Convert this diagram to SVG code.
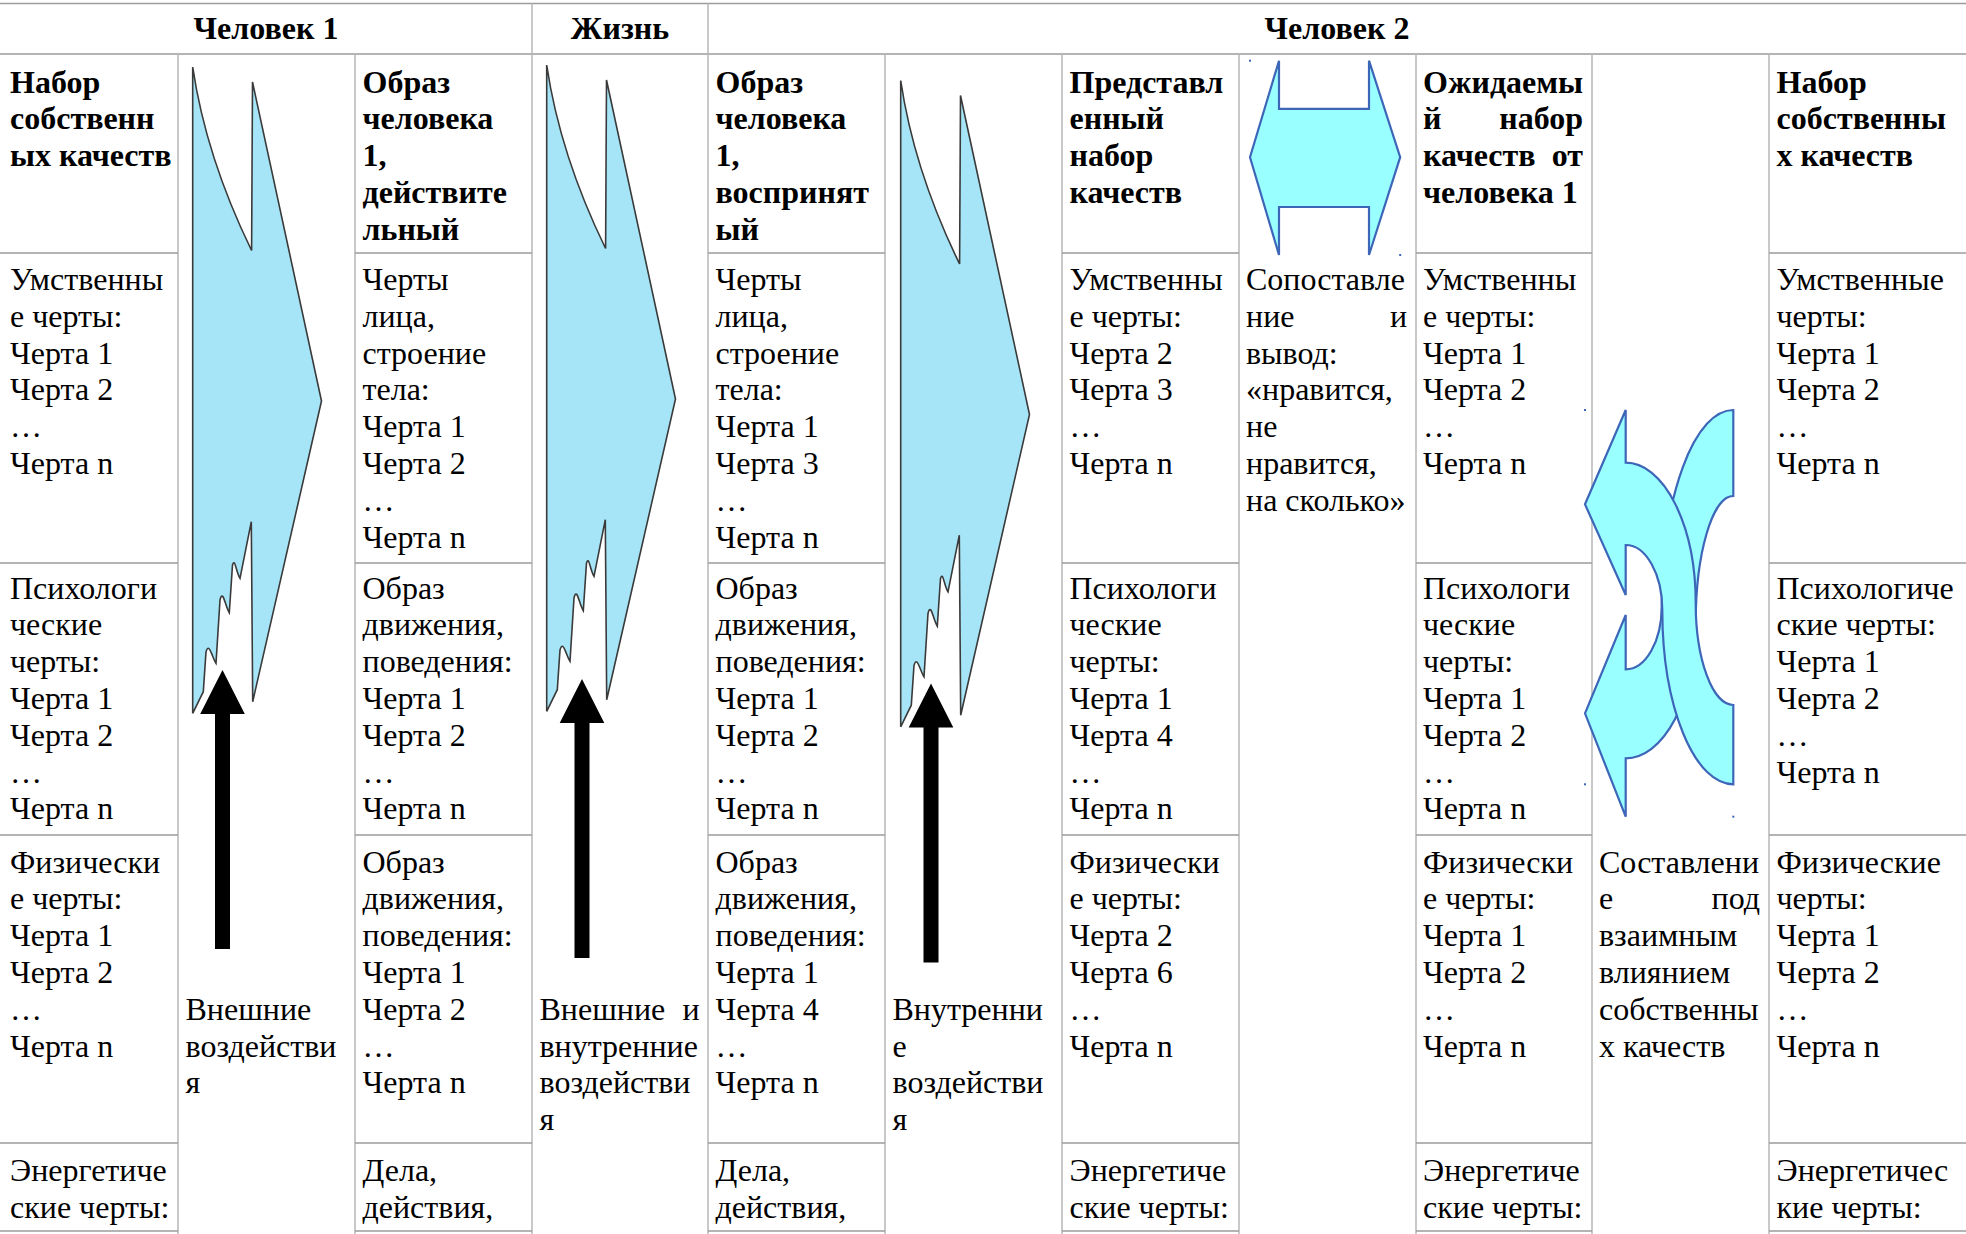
<svg xmlns="http://www.w3.org/2000/svg" width="1966" height="1234" viewBox="0 0 1966 1234">
  <style>
    text { font-family: "Liberation Serif", "Times New Roman", serif; font-size: 32px; fill: #000; }
    .b { font-weight: bold; }
    .hdr { font-weight: bold; text-anchor: middle; }
    .end { text-anchor: end; }
    .gh { stroke: #9c9c9c; stroke-width: 1.5; fill: none; }
    .gv { stroke: #b8b8b8; stroke-width: 1.5; fill: none; }
    .flow { fill: #a5e5f7; stroke: #3a3a3a; stroke-width: 1.6; stroke-linejoin: miter; }
    .cmp { fill: #99ffff; stroke: #3d66b8; stroke-width: 2.2; stroke-linejoin: miter; }
    .push { fill: #000; }
    .dot { fill: #3d66b8; }
  </style>
  <defs>
    <!-- torn block arrow pointing right -->
    <path id="flowArrow" d="M 192.7,67 Q 206,157 251.6,250.5 L 252.5,82 L 321.5,401 L 252.7,701.7 L 251.3,521.7 L 240,578.3 C 236,572 235,557 232.5,565 L 229.3,612.7 C 225,606 223,588 220,600 L 216,663.3 C 212,657 209,641 206,652 L 203.3,691.7 L 192.7,713.3 Z"/>
    <!-- thick upward arrow, tip at origin -->
    <path id="pushArrow" d="M 0,0 L 22.3,44 L 7.5,44 L 7.5,279 L -7.5,279 L -7.5,44 L -22.3,44 Z"/>
  </defs>
  <rect width="1966" height="1234" fill="#fff"/>

  <!-- table grid -->
  <g id="grid">
    <path class="gh" d="M0,3.5 H1966 M0,54 H1966"/>
    <path class="gv" d="M532,3.5 V54 M708,3.5 V54"/>
    <path class="gv" d="M178,54 V1234 M355,54 V1234 M532,54 V1234 M708,54 V1234 M885,54 V1234 M1062,54 V1234 M1239,54 V1234 M1416,54 V1234 M1592,54 V1234 M1769,54 V1234"/>
    <path class="gh" d="M0,253 H178 M355,253 H532 M708,253 H885 M1062,253 H1239 M1416,253 H1592 M1769,253 H1966
                        M0,563 H178 M355,563 H532 M708,563 H885 M1062,563 H1239 M1416,563 H1592 M1769,563 H1966
                        M0,835 H178 M355,835 H532 M708,835 H885 M1062,835 H1239 M1416,835 H1592 M1769,835 H1966
                        M0,1143 H178 M355,1143 H532 M708,1143 H885 M1062,1143 H1239 M1416,1143 H1592 M1769,1143 H1966
                        M0,1231 H178 M355,1231 H532 M708,1231 H885 M1062,1231 H1239 M1416,1231 H1592 M1769,1231 H1966"/>
  </g>

  <!-- header row -->
  <g id="header">
    <text class="hdr" x="266" y="39">Человек 1</text>
    <text class="hdr" x="620" y="39">Жизнь</text>
    <text class="hdr" x="1337" y="39">Человек 2</text>
  </g>

  <!-- person 1: own qualities -->
  <g id="own-qualities-1">
    <text class="b" x="10" y="92.5"><tspan x="10">Набор</tspan><tspan x="10" dy="36.8">собственн</tspan><tspan x="10" dy="36.8">ых качеств</tspan></text>
    <text x="10" y="290"><tspan x="10">Умственны</tspan><tspan x="10" dy="36.8">е черты:</tspan><tspan x="10" dy="36.8">Черта 1</tspan><tspan x="10" dy="36.8">Черта 2</tspan><tspan x="10" dy="36.8">…</tspan><tspan x="10" dy="36.8">Черта n</tspan></text>
    <text x="10" y="598.5"><tspan x="10">Психологи</tspan><tspan x="10" dy="36.8">ческие</tspan><tspan x="10" dy="36.8">черты:</tspan><tspan x="10" dy="36.8">Черта 1</tspan><tspan x="10" dy="36.8">Черта 2</tspan><tspan x="10" dy="36.8">…</tspan><tspan x="10" dy="36.8">Черта n</tspan></text>
    <text x="10" y="872.5"><tspan x="10">Физически</tspan><tspan x="10" dy="36.8">е черты:</tspan><tspan x="10" dy="36.8">Черта 1</tspan><tspan x="10" dy="36.8">Черта 2</tspan><tspan x="10" dy="36.8">…</tspan><tspan x="10" dy="36.8">Черта n</tspan></text>
    <text x="10" y="1181"><tspan x="10">Энергетиче</tspan><tspan x="10" dy="36.8">ские черты:</tspan></text>
  </g>

  <g id="influence-outer">
    <text x="185.5" y="1019.7"><tspan x="185.5">Внешние</tspan><tspan x="185.5" dy="36.8">воздействи</tspan><tspan x="185.5" dy="36.8">я</tspan></text>
  </g>

  <!-- image of person 1, actual -->
  <g id="image-actual">
    <text class="b" x="362.5" y="92.5"><tspan x="362.5">Образ</tspan><tspan x="362.5" dy="36.8">человека</tspan><tspan x="362.5" dy="36.8">1,</tspan><tspan x="362.5" dy="36.8">действите</tspan><tspan x="362.5" dy="36.8">льный</tspan></text>
    <text x="362.5" y="290"><tspan x="362.5">Черты</tspan><tspan x="362.5" dy="36.8">лица,</tspan><tspan x="362.5" dy="36.8">строение</tspan><tspan x="362.5" dy="36.8">тела:</tspan><tspan x="362.5" dy="36.8">Черта 1</tspan><tspan x="362.5" dy="36.8">Черта 2</tspan><tspan x="362.5" dy="36.8">…</tspan><tspan x="362.5" dy="36.8">Черта n</tspan></text>
    <text x="362.5" y="598.5"><tspan x="362.5">Образ</tspan><tspan x="362.5" dy="36.8">движения,</tspan><tspan x="362.5" dy="36.8">поведения:</tspan><tspan x="362.5" dy="36.8">Черта 1</tspan><tspan x="362.5" dy="36.8">Черта 2</tspan><tspan x="362.5" dy="36.8">…</tspan><tspan x="362.5" dy="36.8">Черта n</tspan></text>
    <text x="362.5" y="872.5"><tspan x="362.5">Образ</tspan><tspan x="362.5" dy="36.8">движения,</tspan><tspan x="362.5" dy="36.8">поведения:</tspan><tspan x="362.5" dy="36.8">Черта 1</tspan><tspan x="362.5" dy="36.8">Черта 2</tspan><tspan x="362.5" dy="36.8">…</tspan><tspan x="362.5" dy="36.8">Черта n</tspan></text>
    <text x="362.5" y="1181"><tspan x="362.5">Дела,</tspan><tspan x="362.5" dy="36.8">действия,</tspan></text>
  </g>

  <g id="influence-life">
    <text x="539.5" y="1019.7">Внешние</text>
    <text class="end" x="699.5" y="1019.7">и</text>
    <text x="539.5" y="1056.5"><tspan x="539.5">внутренние</tspan><tspan x="539.5" dy="36.8">воздействи</tspan><tspan x="539.5" dy="36.8">я</tspan></text>
  </g>

  <!-- image of person 1, perceived -->
  <g id="image-perceived">
    <text class="b" x="715.5" y="92.5"><tspan x="715.5">Образ</tspan><tspan x="715.5" dy="36.8">человека</tspan><tspan x="715.5" dy="36.8">1,</tspan><tspan x="715.5" dy="36.8">воспринят</tspan><tspan x="715.5" dy="36.8">ый</tspan></text>
    <text x="715.5" y="290"><tspan x="715.5">Черты</tspan><tspan x="715.5" dy="36.8">лица,</tspan><tspan x="715.5" dy="36.8">строение</tspan><tspan x="715.5" dy="36.8">тела:</tspan><tspan x="715.5" dy="36.8">Черта 1</tspan><tspan x="715.5" dy="36.8">Черта 3</tspan><tspan x="715.5" dy="36.8">…</tspan><tspan x="715.5" dy="36.8">Черта n</tspan></text>
    <text x="715.5" y="598.5"><tspan x="715.5">Образ</tspan><tspan x="715.5" dy="36.8">движения,</tspan><tspan x="715.5" dy="36.8">поведения:</tspan><tspan x="715.5" dy="36.8">Черта 1</tspan><tspan x="715.5" dy="36.8">Черта 2</tspan><tspan x="715.5" dy="36.8">…</tspan><tspan x="715.5" dy="36.8">Черта n</tspan></text>
    <text x="715.5" y="872.5"><tspan x="715.5">Образ</tspan><tspan x="715.5" dy="36.8">движения,</tspan><tspan x="715.5" dy="36.8">поведения:</tspan><tspan x="715.5" dy="36.8">Черта 1</tspan><tspan x="715.5" dy="36.8">Черта 4</tspan><tspan x="715.5" dy="36.8">…</tspan><tspan x="715.5" dy="36.8">Черта n</tspan></text>
    <text x="715.5" y="1181"><tspan x="715.5">Дела,</tspan><tspan x="715.5" dy="36.8">действия,</tspan></text>
  </g>

  <g id="influence-inner">
    <text x="892.5" y="1019.7"><tspan x="892.5">Внутренни</tspan><tspan x="892.5" dy="36.8">е</tspan><tspan x="892.5" dy="36.8">воздействи</tspan><tspan x="892.5" dy="36.8">я</tspan></text>
  </g>

  <!-- person 2: represented set -->
  <g id="represented-set">
    <text class="b" x="1069.5" y="92.5"><tspan x="1069.5">Представл</tspan><tspan x="1069.5" dy="36.8">енный</tspan><tspan x="1069.5" dy="36.8">набор</tspan><tspan x="1069.5" dy="36.8">качеств</tspan></text>
    <text x="1069.5" y="290"><tspan x="1069.5">Умственны</tspan><tspan x="1069.5" dy="36.8">е черты:</tspan><tspan x="1069.5" dy="36.8">Черта 2</tspan><tspan x="1069.5" dy="36.8">Черта 3</tspan><tspan x="1069.5" dy="36.8">…</tspan><tspan x="1069.5" dy="36.8">Черта n</tspan></text>
    <text x="1069.5" y="598.5"><tspan x="1069.5">Психологи</tspan><tspan x="1069.5" dy="36.8">ческие</tspan><tspan x="1069.5" dy="36.8">черты:</tspan><tspan x="1069.5" dy="36.8">Черта 1</tspan><tspan x="1069.5" dy="36.8">Черта 4</tspan><tspan x="1069.5" dy="36.8">…</tspan><tspan x="1069.5" dy="36.8">Черта n</tspan></text>
    <text x="1069.5" y="872.5"><tspan x="1069.5">Физически</tspan><tspan x="1069.5" dy="36.8">е черты:</tspan><tspan x="1069.5" dy="36.8">Черта 2</tspan><tspan x="1069.5" dy="36.8">Черта 6</tspan><tspan x="1069.5" dy="36.8">…</tspan><tspan x="1069.5" dy="36.8">Черта n</tspan></text>
    <text x="1069.5" y="1181"><tspan x="1069.5">Энергетиче</tspan><tspan x="1069.5" dy="36.8">ские черты:</tspan></text>
  </g>

  <g id="comparison">
    <text x="1246" y="290">Сопоставле</text>
    <text x="1246" y="326.8">ние</text>
    <text class="end" x="1407" y="326.8">и</text>
    <text x="1246" y="363.6"><tspan x="1246">вывод:</tspan><tspan x="1246" dy="36.8">«нравится,</tspan><tspan x="1246" dy="36.8">не</tspan><tspan x="1246" dy="36.8">нравится,</tspan><tspan x="1246" dy="36.8">на сколько»</tspan></text>
  </g>

  <!-- person 2: expected set -->
  <g id="expected-set">
    <text class="b" x="1423" y="92.5">Ожидаемы</text>
    <text class="b" x="1423" y="129.3">й</text>
    <text class="b end" x="1583" y="129.3">набор</text>
    <text class="b" x="1423" y="166.1">качеств</text>
    <text class="b end" x="1583" y="166.1">от</text>
    <text class="b" x="1423" y="202.9">человека 1</text>
    <text x="1423" y="290"><tspan x="1423">Умственны</tspan><tspan x="1423" dy="36.8">е черты:</tspan><tspan x="1423" dy="36.8">Черта 1</tspan><tspan x="1423" dy="36.8">Черта 2</tspan><tspan x="1423" dy="36.8">…</tspan><tspan x="1423" dy="36.8">Черта n</tspan></text>
    <text x="1423" y="598.5"><tspan x="1423">Психологи</tspan><tspan x="1423" dy="36.8">ческие</tspan><tspan x="1423" dy="36.8">черты:</tspan><tspan x="1423" dy="36.8">Черта 1</tspan><tspan x="1423" dy="36.8">Черта 2</tspan><tspan x="1423" dy="36.8">…</tspan><tspan x="1423" dy="36.8">Черта n</tspan></text>
    <text x="1423" y="872.5"><tspan x="1423">Физически</tspan><tspan x="1423" dy="36.8">е черты:</tspan><tspan x="1423" dy="36.8">Черта 1</tspan><tspan x="1423" dy="36.8">Черта 2</tspan><tspan x="1423" dy="36.8">…</tspan><tspan x="1423" dy="36.8">Черта n</tspan></text>
    <text x="1423" y="1181"><tspan x="1423">Энергетиче</tspan><tspan x="1423" dy="36.8">ские черты:</tspan></text>
  </g>

  <g id="mutual-influence">
    <text x="1599" y="872.5">Составлени</text>
    <text x="1599" y="909.3">е</text>
    <text class="end" x="1760" y="909.3">под</text>
    <text x="1599" y="946.1"><tspan x="1599">взаимным</tspan><tspan x="1599" dy="36.8">влиянием</tspan><tspan x="1599" dy="36.8">собственны</tspan><tspan x="1599" dy="36.8">х качеств</tspan></text>
  </g>

  <!-- person 2: own qualities -->
  <g id="own-qualities-2">
    <text class="b" x="1776.5" y="92.5"><tspan x="1776.5">Набор</tspan><tspan x="1776.5" dy="36.8">собственны</tspan><tspan x="1776.5" dy="36.8">х качеств</tspan></text>
    <text x="1776.5" y="290"><tspan x="1776.5">Умственные</tspan><tspan x="1776.5" dy="36.8">черты:</tspan><tspan x="1776.5" dy="36.8">Черта 1</tspan><tspan x="1776.5" dy="36.8">Черта 2</tspan><tspan x="1776.5" dy="36.8">…</tspan><tspan x="1776.5" dy="36.8">Черта n</tspan></text>
    <text x="1776.5" y="598.5"><tspan x="1776.5">Психологиче</tspan><tspan x="1776.5" dy="36.8">ские черты:</tspan><tspan x="1776.5" dy="36.8">Черта 1</tspan><tspan x="1776.5" dy="36.8">Черта 2</tspan><tspan x="1776.5" dy="36.8">…</tspan><tspan x="1776.5" dy="36.8">Черта n</tspan></text>
    <text x="1776.5" y="872.5"><tspan x="1776.5">Физические</tspan><tspan x="1776.5" dy="36.8">черты:</tspan><tspan x="1776.5" dy="36.8">Черта 1</tspan><tspan x="1776.5" dy="36.8">Черта 2</tspan><tspan x="1776.5" dy="36.8">…</tspan><tspan x="1776.5" dy="36.8">Черта n</tspan></text>
    <text x="1776.5" y="1181"><tspan x="1776.5">Энергетичес</tspan><tspan x="1776.5" dy="36.8">кие черты:</tspan></text>
  </g>

  <!-- arrows between the columns -->
  <g id="connectors">
    <use href="#flowArrow" class="flow"/>
    <use href="#flowArrow" class="flow" transform="translate(354,-2)"/>
    <use href="#flowArrow" class="flow" transform="translate(708,13.5)"/>

    <use href="#pushArrow" class="push" transform="translate(222.5,670)"/>
    <use href="#pushArrow" class="push" transform="translate(582,679)"/>
    <use href="#pushArrow" class="push" transform="translate(931,683.5)"/>

    <!-- two-way comparison arrow -->
    <path class="cmp" d="M 1279,60.7 L 1279,108.9 L 1369,108.9 L 1369,60.7 L 1400.2,157.2 L 1369,255 L 1369,207 L 1279,207 L 1279,255 L 1250,157.2 Z"/>
    <rect class="dot" x="1249" y="59.7" width="2" height="2"/>
    <rect class="dot" x="1399.2" y="254" width="2" height="2"/>

    <!-- crossing curved arrows: lower one first, upper one over it -->
    <path class="cmp" d="M 1585,713.3 L 1625.7,615 L 1625.7,669.3 A 36,62.6 0 0 0 1661.7,606.7 A 71.6,196.7 0 0 1 1733.3,410 L 1733.3,496 A 37.6,127.3 0 0 0 1695.7,623.3 A 70,135 0 0 1 1625.7,758.3 L 1625.7,816.7 Z"/>
    <path class="cmp" d="M 1585,504.3 L 1625.7,410 L 1625.7,462.7 A 70,140.6 0 0 1 1695.7,603.3 A 37.6,101.7 0 0 0 1733.3,705 L 1733.3,784.3 A 71,174.3 0 0 1 1662.3,610 A 36.6,65 0 0 0 1625.7,545 L 1625.7,595 Z"/>
    <rect class="dot" x="1584" y="409" width="2" height="2"/>
    <rect class="dot" x="1584" y="783.3" width="2" height="2"/>
    <rect class="dot" x="1732.3" y="815.7" width="2" height="2"/>
  </g>
</svg>
